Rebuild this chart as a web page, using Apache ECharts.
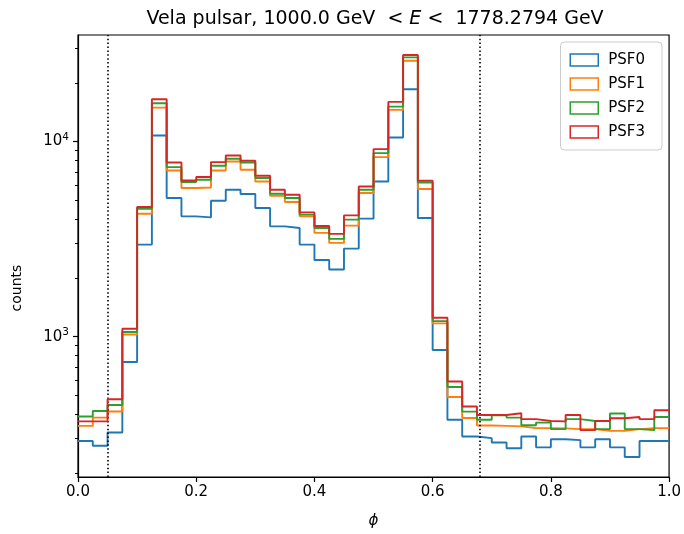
<!DOCTYPE html>
<html>
<head>
<meta charset="utf-8">
<script src="https://cdn.jsdelivr.net/npm/echarts@6/dist/echarts.min.js"></script>
<style>html,body{margin:0;padding:0;background:#fff}#c{width:684px;height:534px}</style>
</head>
<body>
<div id="c"></div>
<script>
// ---- data ----
var seriesNames = ['PSF0', 'PSF1', 'PSF2', 'PSF3'];
var phaseMin = 0, phaseMax = 1, nBins = 40;
var psf0 = [292, 276, 323, 742, 2964, 10730, 5135, 4136, 4088, 4975, 5664, 5383, 4566, 3676, 3608, 2964, 2470, 2208, 2828, 4025, 6244, 10480, 18530, 4059, 854, 375, 308, 302, 287, 268, 308, 271, 298, 295, 271, 298, 271, 242, 292, 292];
var psf1 = [349, 385, 414, 1027, 4269, 14920, 7108, 5779, 5819, 7108, 7904, 7167, 6244, 5276, 4899, 4136, 3402, 3024, 3707, 5447, 8321, 14530, 25950, 5710, 1170, 491, 383, 351, 349, 347, 340, 340, 339, 336, 336, 329, 329, 336, 340, 340];
var psf2 = [390, 416, 447, 1056, 4528, 15720, 7398, 6200, 6371, 7513, 8155, 7810, 6500, 5402, 5135, 4220, 3608, 3170, 3979, 5664, 8723, 15100, 27010, 6171, 1202, 552, 413, 375, 396, 385, 352, 363, 336, 378, 370, 336, 404, 336, 332, 388];
var psf3 = [368, 368, 478, 1099, 4618, 16470, 7810, 6318, 6577, 7847, 8481, 7966, 6677, 5664, 5339, 4335, 3694, 3362, 4184, 5887, 9145, 15960, 27750, 6296, 1251, 589, 439, 397, 397, 405, 378, 370, 368, 397, 332, 370, 382, 388, 378, 420];
var xTicks = [0, 0.2, 0.4, 0.6, 0.8, 1.0];
var yMajorTicks = [1000, 10000];
var yMinorTicks = [200, 300, 400, 500, 600, 700, 800, 900, 2000, 3000, 4000, 5000, 6000, 7000, 8000, 9000, 20000, 30000];
var yMin = 191, yMax = 35150;
var vLines = [0.05, 0.675];
// --------------

var colors = ['#1f77b4', '#ff7f0e', '#2ca02c', '#d62728'];
var allSeries = [psf0, psf1, psf2, psf3];
var binW = (phaseMax - phaseMin) / nBins;
function stepData(vals) {
  var d = [];
  for (var i = 0; i < vals.length; i++) d.push([phaseMin + i * binW, vals[i]]);
  d.push([phaseMax, vals[vals.length - 1]]);
  return d;
}
var FONT = 'DejaVu Sans';
var series = allSeries.map(function (vals, k) {
  return {
    name: seriesNames[k], type: 'line', step: 'end', data: stepData(vals),
    showSymbol: false, symbol: 'none', animation: false,
    lineStyle: { color: colors[k], width: 1.9 },
    itemStyle: { color: colors[k] }, z: 2 + k
  };
});
series.push({
  type: 'line', data: [], animation: false, silent: true,
  markLine: {
    silent: true, symbol: ['none', 'none'], label: { show: false },
    lineStyle: { color: '#000', width: 1.6, type: [1.5, 2.4], cap: 'butt' },
    data: vLines.map(function (v) { return { xAxis: v }; }),
    animation: false
  }
});

var chart = echarts.init(document.getElementById('c'), null, { renderer: 'canvas' });
chart.setOption({
  animation: false,
  backgroundColor: '#fff',
  title: {
    text: '{n|Vela pulsar, 1000.0 GeV\u00a0 < }{i|E}{n| <\u00a0 1778.2794 GeV}',
    left: 370, top: 5, textAlign: 'center',
    textStyle: {
      fontWeight: 'normal',
      rich: {
        n: { fontFamily: FONT, fontSize: 19, fontWeight: 'normal', color: '#000' },
        i: { fontFamily: FONT, fontSize: 19, fontWeight: 'normal', fontStyle: 'italic', color: '#000' }
      }
    }
  },
  grid: { left: 78, right: 14, top: 35, bottom: 56, show: true, borderColor: '#000', borderWidth: 1.2, backgroundColor: 'transparent' },
  legend: {
    orient: 'vertical', right: 22, top: 42,
    backgroundColor: 'rgba(255,255,255,0.8)', borderColor: '#cccccc', borderWidth: 1, borderRadius: 4,
    padding: [10, 17, 10, 9], itemGap: 8, itemWidth: 28, itemHeight: 12,
    textStyle: { fontFamily: FONT, fontSize: 15, color: '#000', lineHeight: 16, padding: [0, 0, 0, 5] },
    data: seriesNames.map(function (n, k) {
      return { name: n, icon: 'rect', itemStyle: { color: 'rgba(0,0,0,0)', borderColor: colors[k], borderWidth: 1.5 } };
    })
  },
  xAxis: {
    type: 'value', min: phaseMin, max: phaseMax, interval: 0.2,
    axisLine: { show: true, lineStyle: { color: '#000', width: 1.2 } },
    axisTick: { show: true, length: 5, inside: false, lineStyle: { color: '#000', width: 1.2 }, customValues: xTicks },
    axisLabel: { customValues: xTicks, fontFamily: FONT, fontSize: 15, color: '#000', margin: 8, formatter: function (v) { return v.toFixed(1); } },
    splitLine: { show: false },
    name: 'ϕ', nameLocation: 'middle', nameGap: 37,
    nameTextStyle: { fontFamily: FONT, fontSize: 15, fontStyle: 'italic', color: '#000' }
  },
  yAxis: [{
    type: 'log', logBase: 10, min: yMin, max: yMax,
    axisLine: { show: true, lineStyle: { color: '#000', width: 1.2 } },
    axisTick: { show: true, length: 5, lineStyle: { color: '#000', width: 1.2 }, customValues: yMajorTicks },
    axisLabel: {
      customValues: yMajorTicks, margin: 9, color: '#000',
      formatter: function (v) { return '{a|10}{b|' + Math.round(Math.log10(v)) + '}'; },
      rich: {
        a: { fontFamily: FONT, fontSize: 15, color: '#000' },
        b: { fontFamily: FONT, fontSize: 10.5, color: '#000', padding: [0, 0, 9, 0] }
      }
    },
    splitLine: { show: false }, minorTick: { show: false },
    name: 'counts', nameLocation: 'middle', nameGap: 54, nameRotate: 90,
    nameTextStyle: { fontFamily: FONT, fontSize: 14, color: '#000', padding: [0, 64, 0, 0] }
  }, {
    type: 'log', logBase: 10, min: yMin, max: yMax, position: 'left',
    axisLine: { show: false },
    axisTick: { show: true, length: 3, lineStyle: { color: '#000', width: 1 }, customValues: yMinorTicks },
    axisLabel: { show: false }, splitLine: { show: false }
  }],
  series: series
});
</script>
</body>
</html>
